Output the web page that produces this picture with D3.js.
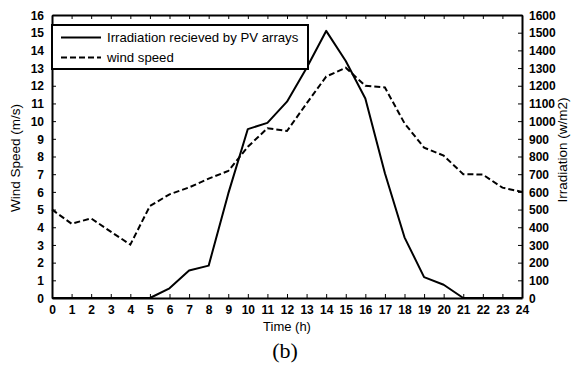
<!DOCTYPE html>
<html>
<head>
<meta charset="utf-8">
<script src="https://cdn.jsdelivr.net/npm/d3@7"></script>
<style>
  body { margin: 0; background: #fff; }
  svg text { font-family: "Liberation Sans", Arial, sans-serif; }
</style>
</head>
<body>
<script>
// hours 0..24
var hours = d3.range(0, 25);
// irradiation received by PV arrays (W/m2), right axis
var irradiation = [0, 0, 0, 0, 0, 0, 55, 155, 183, 590, 955, 990, 1110, 1300, 1510, 1340, 1128, 705, 343, 118, 75, 0, 0, 0, 0];
// wind speed (m/s), left axis
var windSpeed = [5.0, 4.2, 4.5, 3.75, 3.02, 5.2, 5.86, 6.25, 6.75, 7.18, 8.55, 9.6, 9.44, 11.0, 12.52, 13.02, 12.0, 11.9, 9.88, 8.5, 8.05, 7.0, 6.98, 6.24, 6.0];
var leftTicks = d3.range(0, 17);
var rightTicks = d3.range(0, 1700, 100);
var legendLabels = ["Irradiation recieved by PV arrays", "wind speed"];

var W = 572, H = 369;
var m = { left: 52, right: 50, top: 15, bottom: 71 };

var svg = d3.select("body").append("svg")
  .attr("width", W).attr("height", H);

var x = d3.scaleLinear().domain([0, 24]).range([m.left, W - m.right]);
var yL = d3.scaleLinear().domain([0, 16]).range([H - m.bottom, m.top]);
var yR = d3.scaleLinear().domain([0, 1600]).range([H - m.bottom, m.top]);

var tickFont = "12px";

// bottom axis
var gx = svg.append("g")
  .attr("transform", "translate(0," + (H - m.bottom) + ")")
  .call(d3.axisBottom(x).tickValues(hours).tickSizeInner(-4).tickSizeOuter(0).tickPadding(7));
// top axis (ticks only)
var gxt = svg.append("g")
  .attr("transform", "translate(0," + m.top + ")")
  .call(d3.axisTop(x).tickValues(hours).tickSizeInner(-4).tickSizeOuter(0).tickFormat(""));
// left axis
var gyl = svg.append("g")
  .attr("transform", "translate(" + m.left + ",0)")
  .call(d3.axisLeft(yL).tickValues(leftTicks).tickSizeInner(-4).tickSizeOuter(0).tickPadding(8));
// right axis
var gyr = svg.append("g")
  .attr("transform", "translate(" + (W - m.right) + ",0)")
  .call(d3.axisRight(yR).tickValues(rightTicks).tickFormat(d3.format("d"))
    .tickSizeInner(-4).tickSizeOuter(0).tickPadding(7));

[gx, gxt, gyl, gyr].forEach(function (g) {
  g.select(".domain").attr("stroke", "#000").attr("stroke-width", 2);
  g.selectAll(".tick line").attr("stroke", "#000").attr("stroke-width", 1);
  g.selectAll(".tick text")
    .attr("fill", "#000")
    .style("font-size", tickFont)
    .style("font-weight", "bold")
    .style("font-family", "'Liberation Sans', Arial, sans-serif");
});
gyl.selectAll(".tick text").attr("dy", "0.35em");
gyr.selectAll(".tick text").attr("dy", "0.35em");

// lines
var lineIrr = d3.line()
  .x(function (d, i) { return x(hours[i]); })
  .y(function (d) { return yR(d); });
var lineWind = d3.line()
  .x(function (d, i) { return x(hours[i]); })
  .y(function (d) { return yL(d); });

svg.append("path").datum(irradiation)
  .attr("d", lineIrr)
  .attr("fill", "none").attr("stroke", "#000").attr("stroke-width", 2)
  .attr("stroke-linejoin", "round");

svg.append("path").datum(windSpeed)
  .attr("d", lineWind)
  .attr("fill", "none").attr("stroke", "#000").attr("stroke-width", 2)
  .attr("stroke-dasharray", "6,3");

// legend
var lg = svg.append("g");
lg.append("rect")
  .attr("x", m.left).attr("y", 25)
  .attr("width", 256).attr("height", 44)
  .attr("fill", "#fff").attr("stroke", "#000").attr("stroke-width", 2);
legendLabels.forEach(function (lab, i) {
  var yy = 37.5 + i * 20;
  lg.append("line")
    .attr("x1", 61).attr("x2", 101).attr("y1", yy).attr("y2", yy)
    .attr("stroke", "#000").attr("stroke-width", 2)
    .attr("stroke-dasharray", i === 1 ? "6,3" : null);
  lg.append("text")
    .attr("x", 107).attr("y", yy).attr("dy", "0.35em")
    .style("font-size", "13.2px")
    .text(lab);
});

// axis titles
svg.append("text")
  .attr("transform", "translate(20,158) rotate(-90)")
  .attr("text-anchor", "middle")
  .style("font-size", "13.5px")
  .text("Wind Speed (m/s)");
svg.append("text")
  .attr("transform", "translate(567,150) rotate(-90)")
  .attr("text-anchor", "middle")
  .style("font-size", "13.5px")
  .text("Irradiation (w/m2)");
svg.append("text")
  .attr("x", 287).attr("y", 331)
  .attr("text-anchor", "middle")
  .style("font-size", "13px")
  .text("Time (h)");
svg.append("text")
  .attr("x", 285).attr("y", 358)
  .attr("text-anchor", "middle")
  .style("font-family", "'Liberation Serif', 'Times New Roman', serif")
  .style("font-size", "22px")
  .text("(b)");
</script>
</body>
</html>
